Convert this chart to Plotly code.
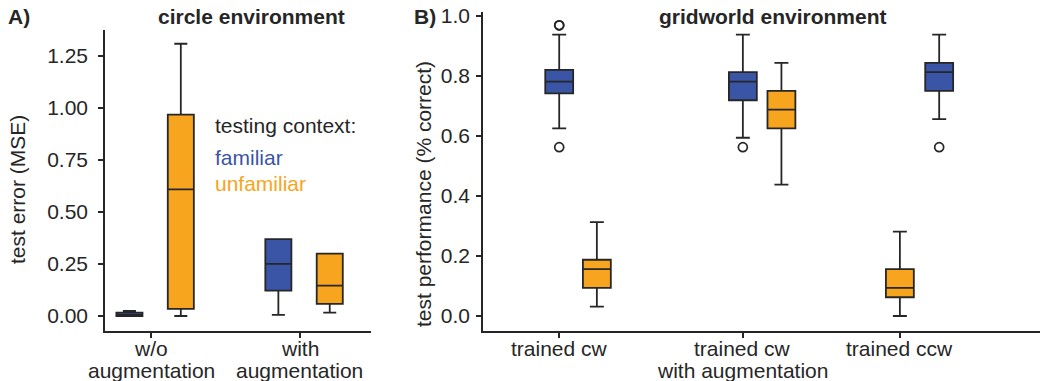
import plotly.graph_objects as go

# ---------------- data ----------------
# Panel A: circle environment, test error (MSE)
a_categories = ["w/o<br>augmentation", "with<br>augmentation"]
a_fam_lower = [0.0, 0.005]
a_fam_q1 = [0.0, 0.122]
a_fam_median = [0.004, 0.251]
a_fam_q3 = [0.016, 0.370]
a_fam_upper = [0.024, 0.370]

a_unf_lower = [0.0, 0.016]
a_unf_q1 = [0.034, 0.058]
a_unf_median = [0.609, 0.146]
a_unf_q3 = [0.968, 0.300]
a_unf_upper = [1.309, 0.300]

# Panel B: gridworld environment, test performance
b_categories = ["trained cw", "trained cw<br>with augmentation", "trained ccw"]
b_fam_lower = [0.625, 0.594, 0.656]
b_fam_q1 = [0.742, 0.719, 0.750]
b_fam_median = [0.781, 0.781, 0.8125]
b_fam_q3 = [0.820, 0.8125, 0.84375]
b_fam_upper = [0.9375, 0.9375, 0.9375]
b_fam_outliers = [[0.96875, 0.96875, 0.5625], [0.5625], [0.5625]]

b_unf_lower = [0.031, 0.4375, 0.0]
b_unf_q1 = [0.094, 0.625, 0.0625]
b_unf_median = [0.156, 0.6875, 0.094]
b_unf_q3 = [0.1875, 0.75, 0.156]
b_unf_upper = [0.3125, 0.84375, 0.281]

# ---------------- layout / style parameters ----------------
W, H = 1041, 381
BLUE = "#3A55A6"
ORANGE = "#F7A51E"
INK = "#262626"
FONT = "Liberation Sans, Arial, sans-serif"
FS = 21

a_group_pos = [0, 1]
a_fam_off, a_unf_off = -0.145, 0.2
a_box_w = 0.175

b_group_pos = [0, 1, 1.855]
b_fam_off = [0, 0, 0.214]
b_unf_off = [0.205, 0.21, 0]
b_box_w = 0.152


def px_x(p):
    return p / W


def px_y(p):
    return 1 - p / H


fig = go.Figure()


def add_box(xaxis, yaxis, x, lower, q1, med, q3, upper, color, width):
    fig.add_trace(go.Box(
        x=[x], lowerfence=[lower], q1=[q1], median=[med], q3=[q3], upperfence=[upper],
        fillcolor=color, line=dict(color=INK, width=1.8), whiskerwidth=0.5,
        width=width, boxpoints=False, xaxis=xaxis, yaxis=yaxis, showlegend=False,
    ))


for i, g in enumerate(a_group_pos):
    add_box("x", "y", g + a_fam_off, a_fam_lower[i], a_fam_q1[i], a_fam_median[i],
            a_fam_q3[i], a_fam_upper[i], BLUE, a_box_w)
    add_box("x", "y", g + a_unf_off, a_unf_lower[i], a_unf_q1[i], a_unf_median[i],
            a_unf_q3[i], a_unf_upper[i], ORANGE, a_box_w)

for i, g in enumerate(b_group_pos):
    add_box("x2", "y2", g + b_fam_off[i], b_fam_lower[i], b_fam_q1[i], b_fam_median[i],
            b_fam_q3[i], b_fam_upper[i], BLUE, b_box_w)
    add_box("x2", "y2", g + b_unf_off[i], b_unf_lower[i], b_unf_q1[i], b_unf_median[i],
            b_unf_q3[i], b_unf_upper[i], ORANGE, b_box_w)
    outs = b_fam_outliers[i]
    fig.add_trace(go.Scatter(
        x=[g + b_fam_off[i]] * len(outs), y=outs, mode="markers",
        marker=dict(symbol="circle-open", size=9, color=INK, line=dict(width=1.7)),
        xaxis="x2", yaxis="y2", showlegend=False, hoverinfo="y",
    ))

axis_common = dict(
    showline=True, linecolor=INK, linewidth=1.5, ticks="outside", ticklen=5,
    tickwidth=1.5, tickcolor=INK, showgrid=False, zeroline=False, automargin=False,
    tickfont=dict(family=FONT, size=FS, color=INK),
)

fig.update_layout(
    width=W, height=H, margin=dict(l=0, r=0, t=0, b=0, pad=0),
    paper_bgcolor="white", plot_bgcolor="white",
    font=dict(family=FONT, size=FS, color=INK),
    xaxis=dict(domain=[px_x(105), px_x(371)], range=[-0.309, 1.477],
               tickvals=a_group_pos, showticklabels=False, anchor="y", **axis_common),
    yaxis=dict(domain=[px_y(331), px_y(30)], range=[-15 / 208, 286 / 208],
               tick0=0, dtick=0.25, tickformat=".2f", anchor="x",
               ticklabelstandoff=6, **axis_common),
    xaxis2=dict(domain=[px_x(483), px_x(1040)], range=[-0.415, 2.618],
                tickvals=b_group_pos, showticklabels=False, anchor="y2", **axis_common),
    yaxis2=dict(domain=[px_y(331), px_y(11.7)], range=[-0.05, 1.014],
                tick0=0, dtick=0.2, tickformat=".1f", anchor="x2",
                ticklabelstandoff=2, **axis_common),
)


def ann(text, x, y, size=FS, color=INK, bold=False, angle=0, xanchor="center"):
    if bold:
        text = "<b>" + text + "</b>"
    fig.add_annotation(
        text=text, x=px_x(x), y=px_y(y), xref="paper", yref="paper",
        xanchor=xanchor, yanchor="middle", showarrow=False, textangle=angle,
        font=dict(family=FONT, size=size, color=color),
    )


# category labels under the x axes, one annotation per text line
def x_labels(xref, positions, labels):
    for pos, lab in zip(positions, labels):
        for j, line in enumerate(lab.split("<br>")):
            fig.add_annotation(
                text=line, x=pos, y=px_y(348 + 22 * j), xref=xref, yref="paper",
                xanchor="center", yanchor="middle", showarrow=False,
                font=dict(family=FONT, size=FS, color=INK),
            )


x_labels("x", a_group_pos, a_categories)
x_labels("x2", b_group_pos, b_categories)

ann("A)", 6, 16, bold=True, xanchor="left")
ann("B)", 412, 16, bold=True, xanchor="left")
ann("circle environment", 251, 16, bold=True)
ann("gridworld environment", 773, 16, bold=True)
ann("test error (MSE)", 17, 190, angle=-90)
ann("test performance (% correct)", 423, 194, angle=-90)
ann("testing context:", 213, 125, xanchor="left")
ann("familiar", 213, 157, color=BLUE, xanchor="left")
ann("unfamiliar", 213, 183, color=ORANGE, xanchor="left")

fig.write_html("out.html", config={"displayModeBar": False},
               post_script="document.body.style.margin='0';")
